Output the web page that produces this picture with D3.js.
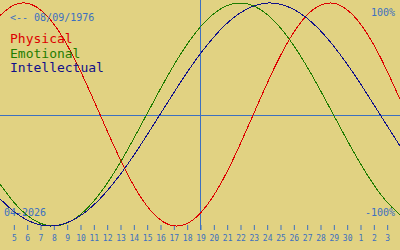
<!DOCTYPE html>
<html>
<head>
<meta charset="utf-8">
<script src="https://cdn.jsdelivr.net/npm/d3@7"></script>
<style>
  body { margin: 0; background: #e1d282; }
  svg { display: block; }
  text { font-family: "DejaVu Sans Mono", monospace; }
</style>
</head>
<body>
<div class="chart"></div>
<script>
"use strict";

const WIDTH = 400,
  HEIGHT = 250;
const BG = "#e1d282";
const BLUE = "#3c70c0";

// DATA ----------------------------
// one value per day, 04 Apr 2026 .. 04 May 2026
const dayLabels = [4, 5, 6, 7, 8, 9, 10, 11, 12, 13, 14, 15, 16, 17, 18, 19, 20,
  21, 22, 23, 24, 25, 26, 27, 28, 29, 30, 1, 2, 3, 4];
const todayIndex = 15;
const physical = [0.888, 0.979, 0.998, 0.942, 0.817, 0.631, 0.398, 0.136, -0.136,
  -0.398, -0.631, -0.817, -0.942, -0.998, -0.979, -0.888, -0.731, -0.52, -0.27, 0,
  0.27, 0.52, 0.731, 0.888, 0.979, 0.998, 0.942, 0.817, 0.631, 0.398, 0.136];
const emotional = [-0.624, -0.782, -0.901, -0.975, -1, -0.975, -0.901, -0.782,
  -0.624, -0.434, -0.223, 0, 0.223, 0.434, 0.624, 0.782, 0.901, 0.975, 1, 0.975,
  0.901, 0.782, 0.624, 0.434, 0.223, 0, -0.223, -0.434, -0.624, -0.782, -0.901];
const intellectual = [-0.756, -0.866, -0.945, -0.99, -0.999, -0.972, -0.91, -0.815,
  -0.69, -0.541, -0.372, -0.189, 0, 0.189, 0.372, 0.541, 0.69, 0.815, 0.91, 0.972,
  0.999, 0.99, 0.945, 0.866, 0.756, 0.618, 0.458, 0.282, 0.095, -0.095, -0.282];
const seriesNames = ["Physical", "Emotional", "Intellectual"];
const seriesColors = ["#dd0000", "#1f7d00", "#10108a"];
const birthLabel = "<-- 08/09/1976";
const monthLabel = "04-2026";

// CHART INIT ----------------------------
const svg = d3
  .select(".chart")
  .append("svg")
  .attr("width", WIDTH)
  .attr("height", HEIGHT)
  .style("background", BG);

const xScale = d3.scaleLinear().domain([0, dayLabels.length - 1]).range([0, WIDTH]);
const yScale = d3.scaleLinear().domain([-1, 1]).range([226, 3]);

// zero line + today line
svg.append("line")
  .attr("x1", 0).attr("x2", WIDTH)
  .attr("y1", Math.round(yScale(0)) + 0.5).attr("y2", Math.round(yScale(0)) + 0.5)
  .attr("stroke", BLUE);

svg.append("line")
  .attr("x1", xScale(todayIndex) + 0.5).attr("x2", xScale(todayIndex) + 0.5)
  .attr("y1", 0).attr("y2", 230)
  .attr("stroke", BLUE);

// day axis
const xAxis = d3.axisBottom(xScale)
  .tickValues(d3.range(1, dayLabels.length - 1))
  .tickFormat((i) => dayLabels[i])
  .tickSize(5)
  .tickPadding(5);

const xGroup = svg.append("g")
  .attr("transform", "translate(0.5, 225)")
  .call(xAxis);
xGroup.select(".domain").remove();
xGroup.selectAll("line").attr("stroke", BLUE);
xGroup.selectAll("text")
  .attr("fill", BLUE)
  .style("font-family", "DejaVu Sans Mono")
  .style("font-size", "8px");

// curves
const line = d3.line()
  .x((d, i) => xScale(i))
  .y((d) => yScale(d))
  .curve(d3.curveNatural);

[physical, emotional, intellectual].forEach((values, k) => {
  svg.append("path")
    .datum(values)
    .attr("d", line)
    .attr("fill", "none")
    .attr("stroke", seriesColors[k])
    .attr("stroke-width", 1)
    .attr("shape-rendering", "crispEdges");
});

// labels
svg.append("text").attr("x", 10).attr("y", 20.5)
  .attr("fill", BLUE).style("font-size", "10px").text(birthLabel);
svg.append("text").attr("x", 395).attr("y", 16).attr("text-anchor", "end")
  .attr("fill", BLUE).style("font-size", "10px").text("100%");
svg.append("text").attr("x", 395).attr("y", 216).attr("text-anchor", "end")
  .attr("fill", BLUE).style("font-size", "10px").text("-100%");
svg.append("text").attr("x", 4).attr("y", 216)
  .attr("fill", BLUE).style("font-size", "10px").text(monthLabel);

seriesNames.forEach((name, k) => {
  svg.append("text")
    .attr("x", 10)
    .attr("y", 43 + k * 14.5)
    .attr("fill", seriesColors[k])
    .style("font-size", "13px")
    .text(name);
});
</script>
</body>
</html>
